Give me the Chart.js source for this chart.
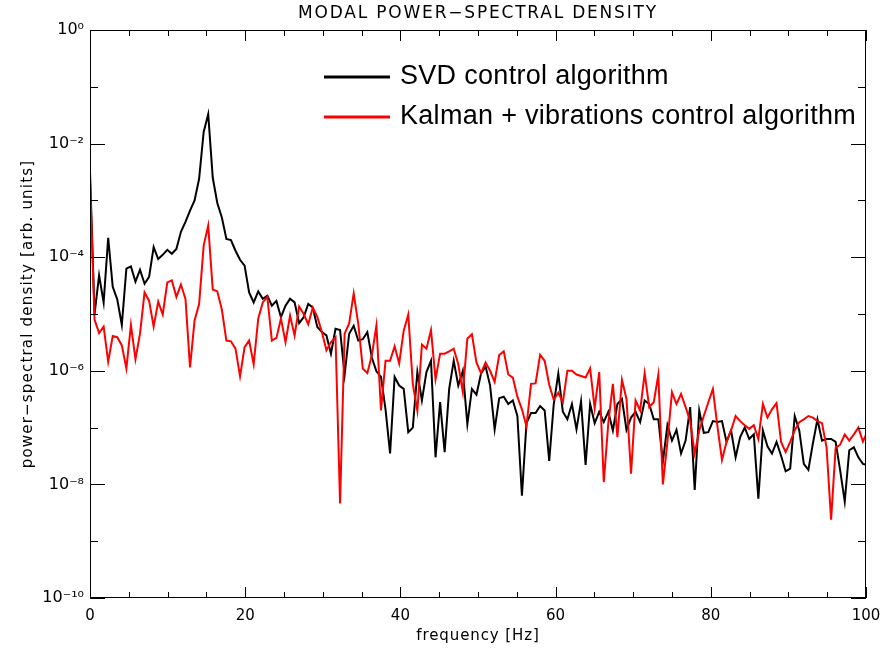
<!DOCTYPE html>
<html>
<head>
<meta charset="utf-8">
<script src="https://cdn.jsdelivr.net/npm/chart.js@4.4.0/dist/chart.umd.min.js"></script>
<style>
  html, body { margin: 0; padding: 0; background: #fff; }
  #wrap { width: 885px; height: 649px; }
</style>
</head>
<body>
<div id="wrap"><canvas id="psd"></canvas></div>
<script>
// FFT bin width in Hz
const binWidth = 0.5859

const svdPsd = [
  3.2e-3, 1.0e-5, 4.8e-5, 1.6e-5, 2.2e-4, 3.0e-5, 1.8e-5, 6.4e-6, 6.3e-5, 6.9e-5,
  3.7e-5, 6.0e-5, 3.4e-5, 4.5e-5, 1.5e-4, 9.3e-5, 1.1e-4, 1.35e-4, 1.15e-4, 1.4e-4,
  2.8e-4, 4.2e-4, 6.6e-4, 1.0e-3, 2.4e-3, 1.6e-2, 3.3e-2, 2.5e-3, 9.0e-4, 5.0e-4,
  2.1e-4, 2.0e-4, 1.3e-4, 9.0e-5, 7.1e-5, 2.4e-5, 1.6e-5, 2.5e-5, 1.85e-5, 2.1e-5,
  1.4e-5, 1.7e-5, 8.8e-6, 1.4e-5, 1.85e-5, 1.6e-5, 6.9e-6, 8.8e-6, 1.5e-5, 1.3e-5,
  5.9e-6, 4.8e-6, 4.2e-6, 2.0e-6, 5.5e-6, 5.2e-6, 8.5e-7, 4.5e-6, 6.2e-6, 3.4e-6,
  3.6e-6, 4.8e-6, 1.7e-6, 9.8e-7, 7.8e-7, 2.1e-7, 3.5e-8, 7.8e-7, 5.5e-7, 4.8e-7,
  8.3e-8, 1.0e-7, 9.5e-7, 3.0e-7, 9.5e-7, 1.5e-6, 3.0e-8, 2.8e-7, 3.7e-8, 4.8e-7,
  1.5e-6, 5.5e-7, 1.0e-6, 1.15e-7, 4.8e-7, 3.8e-7, 8.9e-7, 1.2e-6, 5.5e-7, 9.3e-8,
  3.3e-7, 3.5e-7, 2.6e-7, 3.0e-7, 1.6e-7, 6.3e-9, 1.2e-7, 1.8e-7, 1.8e-7, 2.4e-7,
  2.0e-7, 2.6e-8, 2.6e-7, 8.9e-7, 1.9e-7, 1.4e-7, 2.6e-7, 9.3e-8, 2.9e-7, 2.2e-8,
  2.6e-7, 1.2e-7, 1.9e-7, 1.25e-7, 1.9e-7, 8.9e-8, 2.6e-7, 3.2e-7, 9.1e-8, 1.5e-7,
  1.9e-7, 1.25e-7, 3.0e-7, 2.6e-7, 1.4e-7, 1.4e-7, 2.5e-8, 1.1e-7, 5.9e-8, 9.1e-8,
  3.5e-8, 5.9e-8, 2.3e-7, 8.0e-9, 2.0e-7, 8.1e-8, 8.3e-8, 1.3e-7, 1.25e-7, 1.3e-7,
  5.6e-8, 8.9e-8, 3.0e-8, 6.8e-8, 1.0e-7, 6.3e-8, 7.6e-8, 5.6e-9, 8.9e-8, 4.7e-8,
  3.5e-8, 5.6e-8, 3.2e-8, 1.7e-8, 1.9e-8, 1.6e-7, 8.9e-8, 2.3e-8, 1.8e-8, 5.3e-8,
  1.4e-7, 5.9e-8, 6.3e-8, 6.3e-8, 5.6e-8, 1.75e-8, 5.0e-9, 4.0e-8, 4.5e-8, 3.0e-8,
  2.3e-8, 2.2e-8
]

const kalmanPsd = [
  2.3e-3, 8.0e-6, 4.6e-6, 6.0e-6, 1.45e-6, 4.1e-6, 3.9e-6, 2.8e-6, 1.1e-6, 6.4e-6,
  1.6e-6, 4.5e-6, 2.4e-5, 1.7e-5, 6.0e-6, 1.65e-5, 9.8e-6, 3.6e-5, 3.9e-5, 2.0e-5,
  3.3e-5, 1.85e-5, 1.15e-6, 7.7e-6, 1.5e-5, 1.6e-4, 3.6e-4, 2.7e-5, 2.5e-5, 1.2e-5,
  3.4e-6, 3.3e-6, 2.45e-6, 8.0e-7, 2.6e-6, 3.4e-6, 1.3e-6, 8.3e-6, 1.6e-5, 2.0e-5,
  3.4e-6, 3.8e-6, 8.3e-6, 3.2e-6, 9.4e-6, 4.2e-6, 1.35e-5, 1.0e-5, 6.6e-6, 1.3e-5,
  8.9e-6, 4.8e-6, 2.3e-6, 3.2e-6, 3.9e-6, 4.6e-9, 4.5e-6, 6.8e-6, 2.3e-5, 6.8e-6,
  1.1e-6, 9.1e-7, 1.9e-6, 6.3e-6, 2.0e-7, 1.5e-6, 1.5e-6, 2.7e-6, 1.35e-6, 5.1e-6,
  9.8e-6, 5.9e-7, 2.0e-7, 2.9e-6, 2.45e-6, 5.2e-6, 7.1e-7, 2.0e-6, 2.0e-6, 2.2e-6,
  2.45e-6, 1.3e-6, 4.2e-7, 3.7e-6, 4.4e-6, 1.4e-6, 9.1e-7, 1.4e-6, 1.0e-6, 6.4e-7,
  1.9e-6, 2.2e-6, 8.6e-7, 7.6e-7, 3.5e-7, 2.1e-7, 1.05e-7, 5.9e-7, 6.0e-7, 1.9e-6,
  1.5e-6, 5.7e-7, 3.1e-7, 4.1e-7, 2.8e-7, 1.0e-6, 1.0e-6, 8.6e-7, 8.1e-7, 7.6e-7,
  1.1e-6, 2.2e-7, 9.5e-7, 1.1e-8, 1.2e-7, 5.9e-7, 6.8e-8, 6.9e-7, 3.2e-7, 1.55e-8,
  3.0e-7, 2.0e-7, 9.1e-7, 2.3e-7, 2.8e-7, 8.5e-7, 1.0e-8, 5.6e-8, 4.2e-7, 2.6e-7,
  3.9e-7, 2.3e-7, 1.3e-7, 3.5e-8, 8.9e-8, 1.6e-7, 2.8e-7, 4.8e-7, 1.05e-7, 2.7e-8,
  5.6e-8, 8.9e-8, 1.6e-7, 1.3e-7, 1.1e-7, 9.5e-8, 1.1e-7, 6.3e-8, 2.6e-7, 1.5e-7,
  2.1e-7, 2.7e-7, 5.6e-8, 3.7e-8, 5.6e-8, 8.9e-8, 1.25e-7, 1.4e-7, 1.6e-7, 1.5e-7,
  1.3e-7, 1.2e-7, 4.5e-8, 2.4e-9, 4.4e-8, 5.0e-8, 7.6e-8, 5.9e-8, 7.6e-8, 1.0e-7,
  5.7e-8, 8.5e-8
]

const seriesLabels = ['SVD control algorithm', 'Kalman + vibrations control algorithm']
const seriesColors = ['#000000', '#ff0000']

const xTicks = [0, 20, 40, 60, 80, 100]
const yTicks = [1, 1e-2, 1e-4, 1e-6, 1e-8, 1e-10]
const yTickLabels = ['10\u2070', '10\u207B\u00B2', '10\u207B\u2074', '10\u207B\u2076', '10\u207B\u2078', '10\u207B\u00B9\u2070']

const titleText = 'MODAL POWER\u2212SPECTRAL DENSITY'
const xTitle = 'frequency [Hz]'
const yTitle = 'power\u2212spectral density [arb. units]'

const toPoints = (arr) => arr.map((v, i) => ({ x: i * binWidth, y: v }))

// box, inward ticks on all four sides, legend and titles
const framePlugin = {
  id: 'idlFrame',
  afterDraw(chart) {
    const { ctx, chartArea: a, scales } = chart
    const xs = scales.x
    const ys = scales.y
    ctx.save()
    ctx.strokeStyle = '#000'
    ctx.lineWidth = 1
    ctx.strokeRect(a.left + 0.5, a.top + 0.5, a.right - a.left - 1, a.bottom - a.top - 1)

    ctx.beginPath()
    for (let v = 0; v <= 100; v += 5) {
      const px = Math.round(xs.getPixelForValue(v)) + 0.5
      const len = v % 20 === 0 ? 11 : 6
      ctx.moveTo(px, a.bottom)
      ctx.lineTo(px, a.bottom - len)
      ctx.moveTo(px, a.top)
      ctx.lineTo(px, a.top + len)
    }
    for (let e = 0; e >= -10; e--) {
      const py = Math.round(ys.getPixelForValue(Math.pow(10, e))) + 0.5
      const len = e % 2 === 0 ? 15 : 8
      ctx.moveTo(a.left, py)
      ctx.lineTo(a.left + len, py)
      ctx.moveTo(a.right, py)
      ctx.lineTo(a.right - len, py)
    }
    ctx.stroke()

    // legend
    ctx.font = '27px "Liberation Sans", Arial, sans-serif'
    ctx.letterSpacing = '0.3px'
    ctx.textBaseline = 'middle'
    ctx.textAlign = 'left'
    const legendY = [77, 117]
    chart.data.datasets.forEach((ds, i) => {
      ctx.strokeStyle = ds.borderColor
      ctx.lineWidth = 3
      ctx.beginPath()
      ctx.moveTo(324, legendY[i])
      ctx.lineTo(390, legendY[i])
      ctx.stroke()
      ctx.fillStyle = '#000'
      ctx.fillText(ds.label, 400, legendY[i])
    })

    // titles
    ctx.fillStyle = '#000'
    ctx.textAlign = 'center'
    ctx.font = '17px "DejaVu Sans", sans-serif'
    ctx.letterSpacing = '1.8px'
    ctx.fillText(titleText, (a.left + a.right) / 2, 14)
    ctx.font = '15px "DejaVu Sans", sans-serif'
    ctx.letterSpacing = '0.9px'
    ctx.fillText(xTitle, (a.left + a.right) / 2, 636)
    ctx.letterSpacing = '1.2px'
    ctx.translate(28, (a.top + a.bottom) / 2)
    ctx.rotate(-Math.PI / 2)
    ctx.fillText(yTitle, 0, 0)
    ctx.restore()
  }
}

new Chart(document.getElementById('psd'), {
  type: 'line',
  data: {
    datasets: [
      {
        label: seriesLabels[0],
        data: toPoints(svdPsd),
        borderColor: seriesColors[0],
        borderWidth: 2,
        pointRadius: 0,
        tension: 0,
        order: 1
      },
      {
        label: seriesLabels[1],
        data: toPoints(kalmanPsd),
        borderColor: seriesColors[1],
        borderWidth: 2,
        pointRadius: 0,
        tension: 0,
        order: 0
      }
    ]
  },
  options: {
    responsive: true,
    maintainAspectRatio: false,
    animation: false,
    layout: { padding: { top: 30, right: 19, left: 0, bottom: 0 } },
    plugins: {
      legend: { display: false },
      tooltip: { enabled: false }
    },
    scales: {
      x: {
        type: 'linear',
        min: 0,
        max: 100,
        grid: { display: false, drawTicks: false },
        border: { display: false },
        afterBuildTicks: (s) => { s.ticks = xTicks.map((v) => ({ value: v })) },
        afterFit: (s) => {
          s.height = 51
          s.paddingLeft = 0
          s.paddingRight = 0
        },
        ticks: {
          padding: 9,
          maxRotation: 0,
          autoSkip: false,
          color: '#000',
          font: { family: '"DejaVu Sans", sans-serif', size: 15 }
        }
      },
      y: {
        type: 'logarithmic',
        min: 1e-10,
        max: 1,
        grid: { display: false, drawTicks: false },
        border: { display: false },
        afterBuildTicks: (s) => { s.ticks = yTicks.map((v) => ({ value: v })) },
        afterFit: (s) => { s.width = 90 },
        ticks: {
          padding: 6,
          autoSkip: false,
          color: '#000',
          font: { family: '"DejaVu Sans", sans-serif', size: 16 },
          callback: (v) => yTickLabels[yTicks.indexOf(v)]
        }
      }
    }
  },
  plugins: [framePlugin]
})
</script>
</body>
</html>
